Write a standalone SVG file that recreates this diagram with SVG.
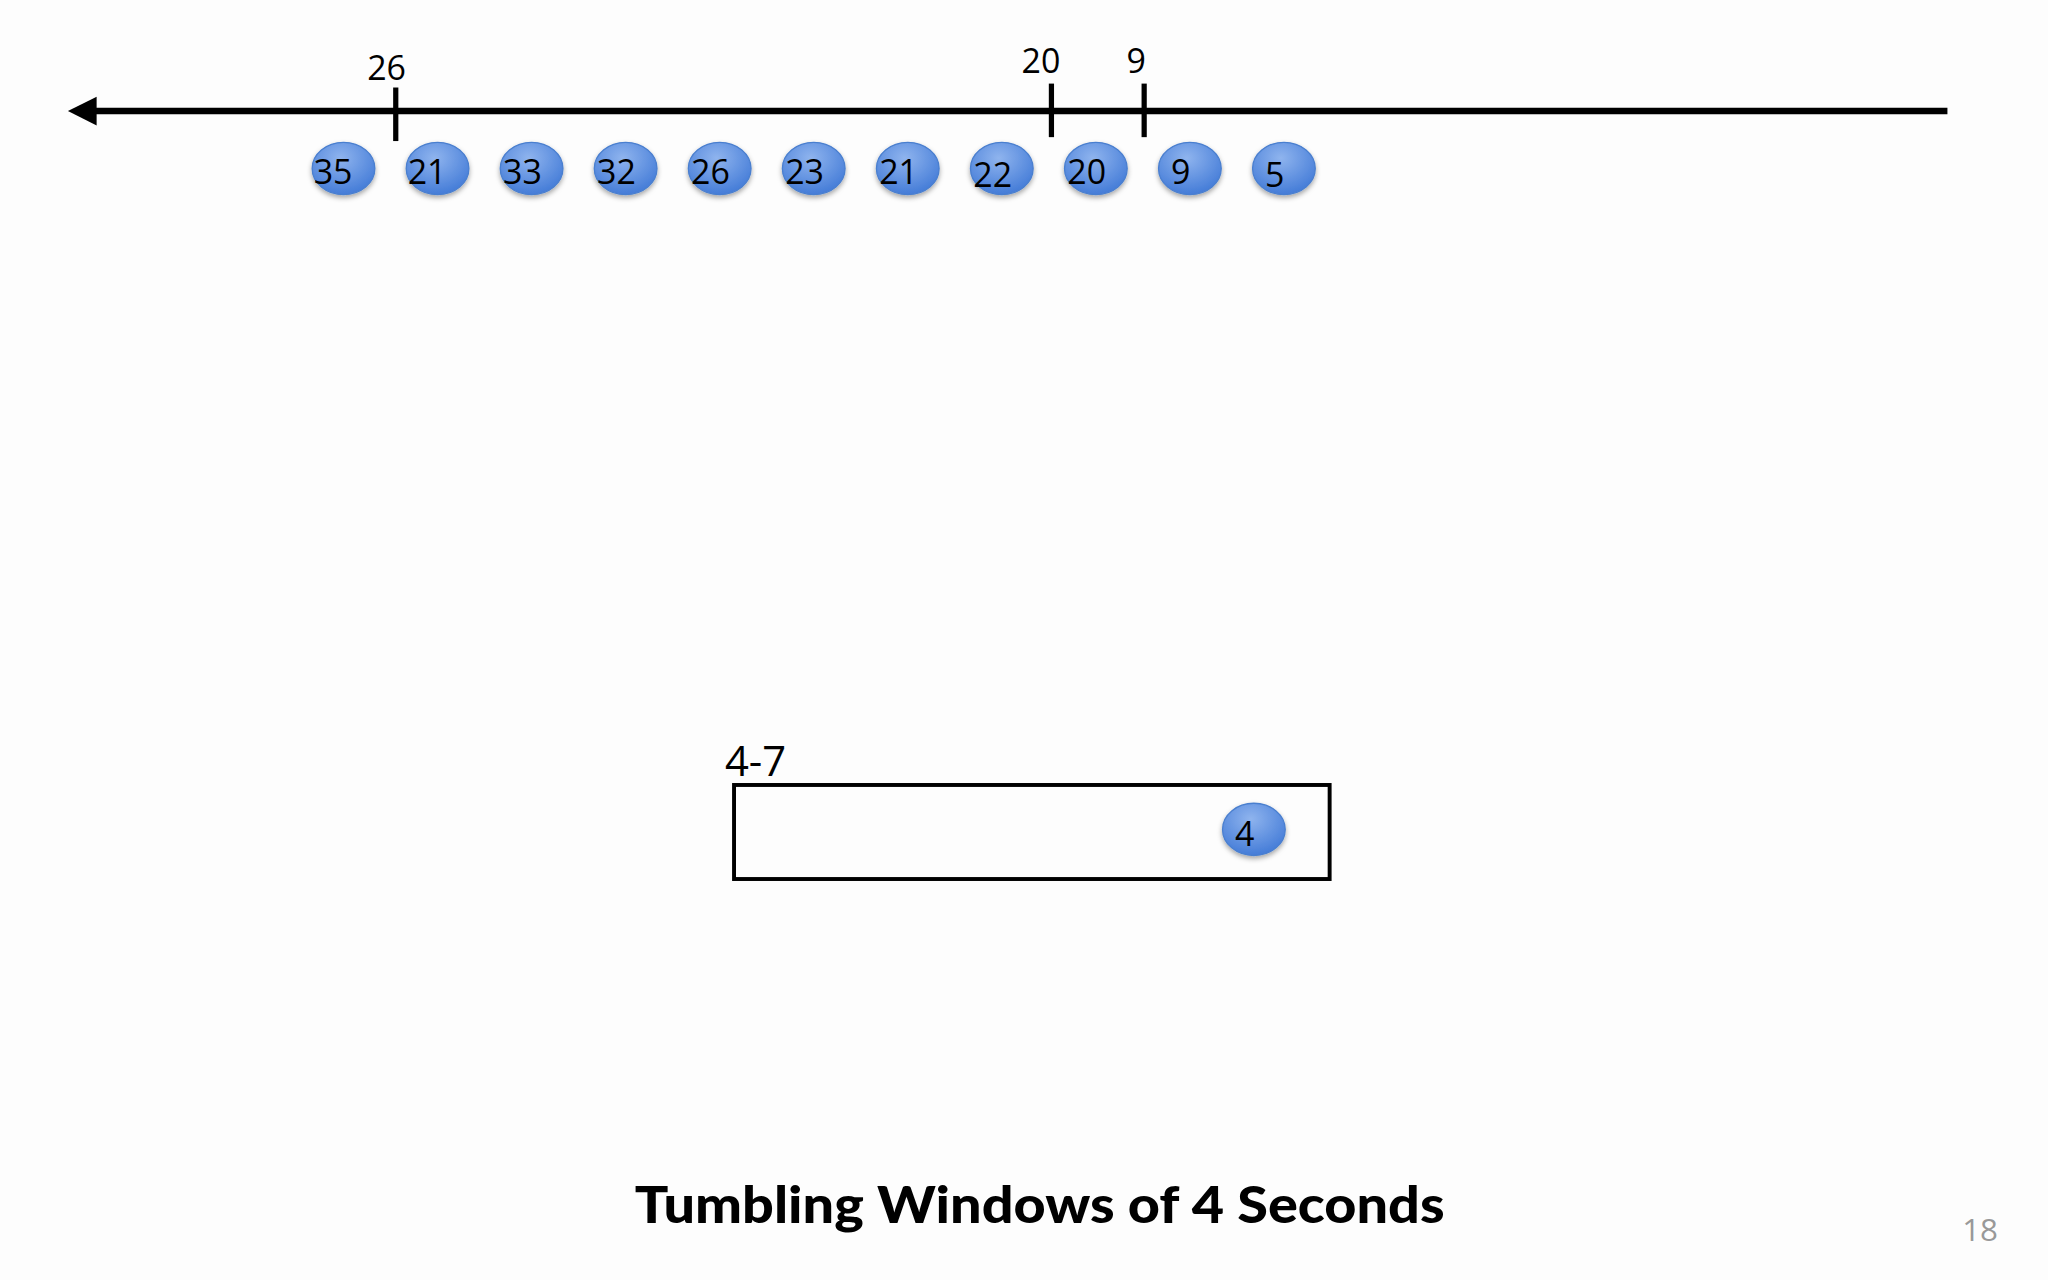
<svg xmlns="http://www.w3.org/2000/svg" width="2048" height="1280" viewBox="0 0 2048 1280">
<defs>
<radialGradient id="bg" cx="0.45" cy="0.3" r="0.75">
<stop offset="0" stop-color="#8fb4ee"/><stop offset="1" stop-color="#3f78d6"/>
</radialGradient>
<filter id="sh" x="-30%" y="-30%" width="160%" height="170%"><feDropShadow dx="0" dy="2" stdDeviation="2" flood-opacity="0.35"/></filter>
</defs>
<style>
.b{fill:url(#bg);stroke:#4a7fcf;stroke-width:1;filter:url(#sh)}
.t{font-family:"Open Sans","Liberation Sans",sans-serif;font-size:26px;fill:#000}
.s{font-family:"Open Sans","Liberation Sans",sans-serif;font-size:26px;fill:#000}
</style>
<rect width="2048" height="1280" fill="#fdfdfd"/>
<g transform="scale(1.306122)">
<g id="connectors">
<line x1="70" y1="85" x2="1491" y2="85" stroke="#000" stroke-width="5"/>
<polygon points="52,85 74,74 74,96" fill="#000"/>
<line x1="303" y1="67" x2="303" y2="108" stroke="#000" stroke-width="4"/>
<line x1="805" y1="64" x2="805" y2="105" stroke="#000" stroke-width="4"/>
<line x1="876" y1="64" x2="876" y2="105" stroke="#000" stroke-width="4"/>
</g>
<text class="s" x="296" y="61" text-anchor="middle">26</text>
<text class="s" x="797" y="56" text-anchor="middle">20</text>
<text class="s" x="870" y="56" text-anchor="middle">9</text>
<g id="e35"><ellipse class="b" cx="263" cy="129" rx="24" ry="20"/><text class="t" x="255" y="141" text-anchor="middle">35</text></g>
<g id="e21a"><ellipse class="b" cx="335" cy="129" rx="24" ry="20"/><text class="t" x="327" y="141" text-anchor="middle">21</text></g>
<g id="e33"><ellipse class="b" cx="407" cy="129" rx="24" ry="20"/><text class="t" x="400" y="141" text-anchor="middle">33</text></g>
<g id="e32"><ellipse class="b" cx="479" cy="129" rx="24" ry="20"/><text class="t" x="472" y="141" text-anchor="middle">32</text></g>
<g id="e26"><ellipse class="b" cx="551" cy="129" rx="24" ry="20"/><text class="t" x="544" y="141" text-anchor="middle">26</text></g>
<g id="e23"><ellipse class="b" cx="623" cy="129" rx="24" ry="20"/><text class="t" x="616" y="141" text-anchor="middle">23</text></g>
<g id="e21b"><ellipse class="b" cx="695" cy="129" rx="24" ry="20"/><text class="t" x="688" y="141" text-anchor="middle">21</text></g>
<g id="e22"><ellipse class="b" cx="767" cy="129" rx="24" ry="20"/><text class="t" x="760" y="143" text-anchor="middle">22</text></g>
<g id="e20"><ellipse class="b" cx="839" cy="129" rx="24" ry="20"/><text class="t" x="832" y="141" text-anchor="middle">20</text></g>
<g id="e9"><ellipse class="b" cx="911" cy="129" rx="24" ry="20"/><text class="t" x="904" y="141" text-anchor="middle">9</text></g>
<g id="e5"><ellipse class="b" cx="983" cy="129" rx="24" ry="20"/><text class="t" x="976" y="143" text-anchor="middle">5</text></g>
<g id="window">
<rect x="562" y="601" width="456" height="72" fill="none" stroke="#000" stroke-width="3"/>
<text x="555" y="594" font-family="Open Sans,Liberation Sans,sans-serif" font-size="32" fill="#000">4-7</text>
</g>
<g id="e4"><ellipse class="b" cx="960" cy="635" rx="24" ry="20"/><text class="t" x="953" y="648" text-anchor="middle">4</text></g>
<text x="486" y="936" textLength="620" lengthAdjust="spacingAndGlyphs" font-family="Lato,Liberation Sans,sans-serif" font-weight="900" font-size="40" fill="#000">Tumbling Windows of 4 Seconds</text>
<text x="1516" y="950" text-anchor="middle" font-family="Open Sans,Liberation Sans,sans-serif" font-size="24" fill="#999">18</text>
</g>
</svg>
